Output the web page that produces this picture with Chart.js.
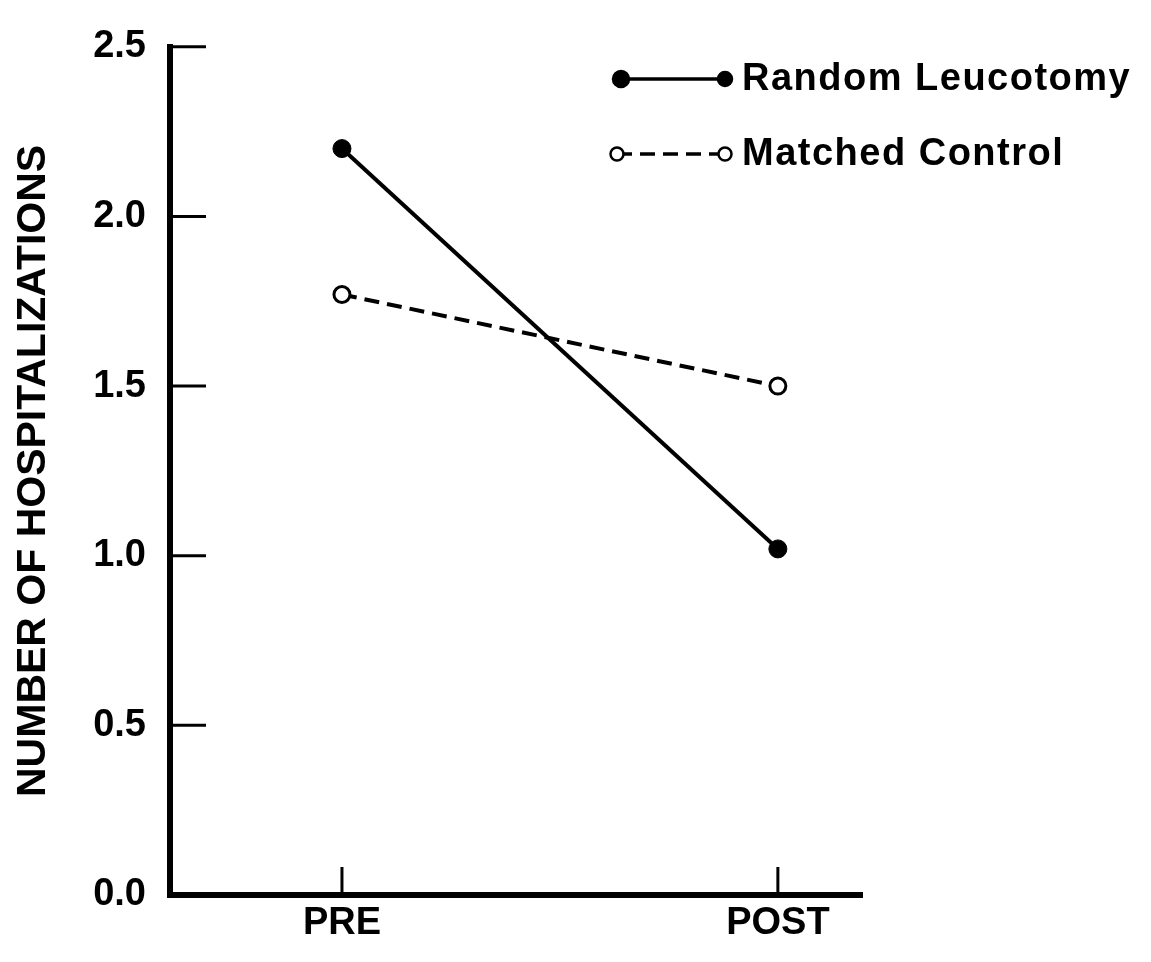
<!DOCTYPE html>
<html>
<head>
<meta charset="utf-8">
<script src="https://cdn.jsdelivr.net/npm/chart.js@4.4.1/dist/chart.umd.min.js"></script>
<style>
    body { margin: 0; background: #ffffff; }
    #wrap { width: 1151px; height: 962px; }
</style>
</head>
<body>
<div id="wrap"><canvas id="chart-main" width="1151" height="962"></canvas></div>
<script>
// data
const categories = ['PRE', 'POST'];
const randomLeucotomy = [2.2, 1.02];
const matchedControl = [1.77, 1.5];
const yTicks = [0, 0.5, 1.0, 1.5, 2.0, 2.5];
const seriesNames = ['Random Leucotomy', 'Matched Control'];

const FONT = '"Liberation Sans", Arial, Helvetica, sans-serif';

function toPoints(values) {
    return values.map(function (v, i) { return { x: i, y: v }; });
}

// inward tick marks (the axes in the figure have their ticks on the inside)
const insideTicksPlugin = {
    id: 'insideTicks',
    afterDatasetsDraw: function (chart) {
        const ctx = chart.ctx;
        const area = chart.chartArea;
        const xs = chart.scales.x;
        const ys = chart.scales.y;
        ctx.save();
        ctx.strokeStyle = '#000';
        ctx.lineWidth = 3;
        ys.ticks.forEach(function (t) {
            if (t.value === 0) return;
            const py = ys.getPixelForValue(t.value);
            ctx.beginPath();
            ctx.moveTo(area.left, py);
            ctx.lineTo(area.left + 36, py);
            ctx.stroke();
        });
        xs.ticks.forEach(function (t) {
            const px = xs.getPixelForValue(t.value);
            ctx.beginPath();
            ctx.moveTo(px, area.bottom);
            ctx.lineTo(px, area.bottom - 28);
            ctx.stroke();
        });
        ctx.restore();
    }
};

// legend: marker - line - marker, then the name
const figureLegendPlugin = {
    id: 'figureLegend',
    afterDraw: function (chart) {
        const ctx = chart.ctx;
        const rows = [
            { y: 79, x1: 621, x2: 725, r1: 8, r2: 7 },
            { y: 154, x1: 617, x2: 725, r1: 6.5, r2: 6.5 }
        ];
        ctx.save();
        chart.data.datasets.forEach(function (ds, i) {
            const row = rows[i];
            ctx.strokeStyle = '#000';
            ctx.lineWidth = 3.5;
            ctx.setLineDash(ds.borderDash || []);
            ctx.beginPath();
            ctx.moveTo(row.x1, row.y);
            ctx.lineTo(row.x2, row.y);
            ctx.stroke();
            ctx.setLineDash([]);
            [[row.x1, row.r1], [row.x2, row.r2]].forEach(function (m) {
                ctx.beginPath();
                ctx.arc(m[0], row.y, m[1], 0, Math.PI * 2);
                ctx.fillStyle = ds.pointBackgroundColor;
                ctx.fill();
                ctx.lineWidth = 2.5;
                ctx.stroke();
            });
            ctx.fillStyle = '#000';
            ctx.font = 'bold 38px ' + FONT;
            ctx.letterSpacing = '1.5px';
            ctx.textAlign = 'left';
            ctx.textBaseline = 'middle';
            ctx.fillText(ds.label, 742, row.y + 1);
            ctx.letterSpacing = '0px';
        });
        ctx.restore();
    }
};

const data = {
    datasets: [
        {
            label: seriesNames[0],
            data: toPoints(randomLeucotomy),
            borderColor: '#000',
            borderWidth: 4,
            pointRadius: 9,
            pointBackgroundColor: '#000',
            pointBorderColor: '#000',
            pointBorderWidth: 1,
            fill: false
        },
        {
            label: seriesNames[1],
            data: toPoints(matchedControl),
            borderColor: '#000',
            borderWidth: 4,
            borderDash: [15, 8],
            pointRadius: 8,
            pointBackgroundColor: '#fff',
            pointBorderColor: '#000',
            pointBorderWidth: 3,
            fill: false
        }
    ]
};

const options = {
    responsive: false,
    animation: false,
    layout: {
        padding: { left: 0, top: 37, right: 289, bottom: 0 }
    },
    scales: {
        x: {
            type: 'linear',
            min: -0.3945,
            max: 1.193,
            border: { display: true, color: '#000', width: 6 },
            grid: { display: true, drawOnChartArea: false, drawTicks: false, color: 'rgba(0,0,0,0)' },
            afterBuildTicks: function (axis) {
                axis.ticks = categories.map(function (c, i) { return { value: i }; });
            },
            afterFit: function (axis) { axis.height = 67; },
            ticks: {
                color: '#000',
                padding: 6,
                maxRotation: 0,
                autoSkip: false,
                font: { family: FONT, size: 38, weight: 'bold' },
                callback: function (value) { return categories[value]; }
            }
        },
        y: {
            min: 0,
            max: 2.5,
            border: { display: true, color: '#000', width: 6 },
            grid: { display: true, drawOnChartArea: false, drawTicks: false, color: 'rgba(0,0,0,0)' },
            afterBuildTicks: function (axis) {
                axis.ticks = yTicks.map(function (v) { return { value: v }; });
            },
            afterFit: function (axis) { axis.width = 170; },
            ticks: {
                color: '#000',
                padding: 24,
                font: { family: FONT, size: 38, weight: 'bold' },
                callback: function (value) { return value.toFixed(1); }
            },
            title: {
                display: true,
                text: 'NUMBER OF HOSPITALIZATIONS',
                color: '#000',
                font: { family: FONT, size: 41, weight: 'bold' },
                padding: { top: 9, bottom: 0 }
            }
        }
    },
    plugins: {
        legend: { display: false },
        tooltip: { enabled: false }
    }
};

const ctx = document.getElementById('chart-main').getContext('2d');
const chart = new Chart(ctx, {
    type: 'line',
    data: data,
    options: options,
    plugins: [insideTicksPlugin, figureLegendPlugin]
});
</script>
</body>
</html>
